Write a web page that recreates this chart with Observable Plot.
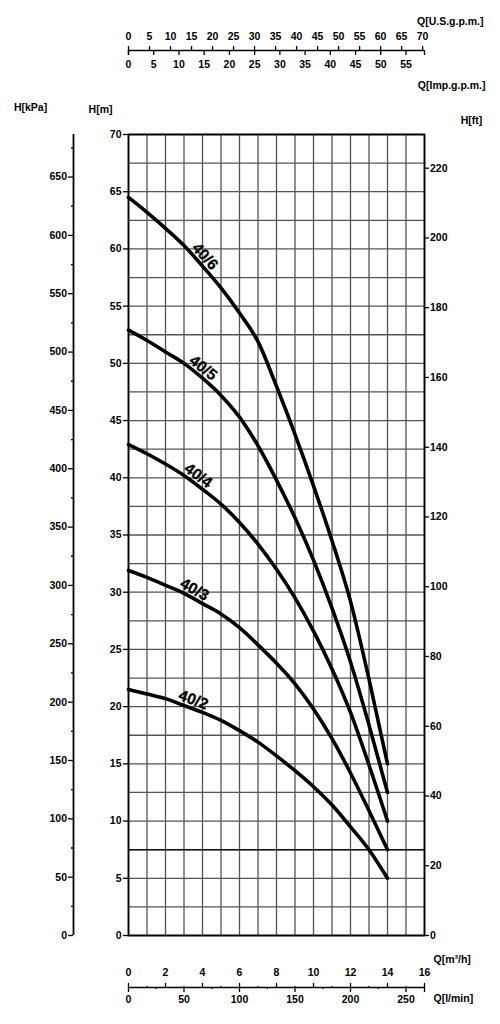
<!DOCTYPE html>
<html>
<head>
<meta charset="utf-8">
<script src="https://cdn.jsdelivr.net/npm/d3@7"></script>
<script src="https://cdn.jsdelivr.net/npm/@observablehq/plot@0.6"></script>
<style>
  html, body { margin: 0; padding: 0; background: #fff; }
  #chart svg { display: block; }
</style>
</head>
<body>
<div id="chart"></div>
<script>
// ---------- data ----------
const flow = [0, 1, 2, 3, 4, 5, 6, 7, 8, 9, 10, 11, 12, 13, 14]; // Q [m³/h]
const models = ["40/2", "40/3", "40/4", "40/5", "40/6"];
const head_40_2 = [21.5, 21.1, 20.7, 20.1, 19.5, 18.8, 17.9, 16.9, 15.7, 14.4, 13.0, 11.4, 9.5, 7.5, 5.0];
const head_40_3 = [31.9, 31.3, 30.6, 29.9, 29.0, 28.1, 26.9, 25.4, 23.8, 22.0, 19.8, 17.2, 14.2, 10.9, 7.5];
const head_40_4 = [42.9, 42.1, 41.2, 40.2, 39.0, 37.7, 36.1, 34.2, 32.0, 29.5, 26.6, 23.3, 19.5, 14.9, 10.0];
const head_40_5 = [52.9, 52.0, 51.0, 50.0, 48.7, 47.2, 45.3, 42.8, 39.8, 36.5, 32.8, 28.6, 23.9, 18.4, 12.5];
const head_40_6 = [64.5, 63.2, 61.8, 60.3, 58.5, 56.6, 54.4, 51.9, 48.0, 43.8, 39.3, 34.5, 29.2, 22.4, 15.0];
const labelFlow = [3.35, 3.35, 3.5, 3.75, 3.8]; // where each curve name sits along its curve

// tick labels
const mTicks = [0, 5, 10, 15, 20, 25, 30, 35, 40, 45, 50, 55, 60, 65, 70];
const kpaTicks = [0, 50, 100, 150, 200, 250, 300, 350, 400, 450, 500, 550, 600, 650];
const kpaMinor = [25, 75, 125, 175, 225, 275, 325, 375, 425, 475, 525, 575, 625, 675];
const ftTicks = [0, 20, 40, 60, 80, 100, 120, 140, 160, 180, 200, 220];
const usGpmTicks = [0, 5, 10, 15, 20, 25, 30, 35, 40, 45, 50, 55, 60, 65, 70];
const impGpmTicks = [0, 5, 10, 15, 20, 25, 30, 35, 40, 45, 50, 55];
const m3hTicks = [0, 2, 4, 6, 8, 10, 12, 14, 16];
const m3hMinor = [1, 3, 5, 7, 9, 11, 13, 15];
const lminTicks = [0, 50, 100, 150, 200, 250];
const lminMinor = [25, 75, 125, 175, 225];

// unit conversions
const KPA_PER_M = 9.80665;
const M_PER_FT = 0.3048;
const M3H_PER_USGPM = 0.2271247;
const M3H_PER_IMPGPM = 0.2727654;
const M3H_PER_LMIN = 0.06;

// ---------- layout ----------
const W = 500, H = 1024;
const ML = 128, MR = 76, MT = 134, MB = 89;
const QMAX = 16, HMAX = 70;
const pxPerQ = (W - ML - MR) / QMAX;
const pxPerH = (H - MT - MB) / HMAX;

const series = {"40/2": head_40_2, "40/3": head_40_3, "40/4": head_40_4, "40/5": head_40_5, "40/6": head_40_6};
const rows = models.flatMap(m => flow.map((q, i) => ({model: m, q, h: series[m][i]})));

// curve name labels, rotated along the curve
const labelMarks = models.map((m, k) => {
  const q = labelFlow[k];
  const hs = series[m];
  const j = Math.min(Math.floor(q), flow.length - 2);
  const t = (q - flow[j]) / (flow[j + 1] - flow[j]);
  const h = hs[j] + t * (hs[j + 1] - hs[j]);
  const theta = Math.atan((hs[j] - hs[j + 1]) * pxPerH / ((flow[j + 1] - flow[j]) * pxPerQ));
  const d = 8.5;
  return Plot.text([{q, h, m}], {
    x: "q", y: "h", text: "m",
    rotate: theta * 180 / Math.PI,
    dx: d * Math.sin(theta), dy: -d * Math.cos(theta),
    fontSize: 15.5, fontWeight: "bold", fill: "#000", stroke: "#000", strokeWidth: 0.3
  });
});

const font = {fontSize: 10.5, fontWeight: "bold"};
const topLineDy = -84;   // auxiliary top flow scale, relative to frame top
const botLineDy = 52;    // auxiliary bottom flow scale, relative to frame bottom
const kpaDx = -55;       // kPa axis, relative to frame left

const chart = Plot.plot({
  width: W, height: H,
  marginLeft: ML, marginRight: MR, marginTop: MT, marginBottom: MB,
  style: {fontFamily: "'Liberation Sans', Arial, Helvetica, sans-serif", fontWeight: "bold", fontSize: "10.5px", color: "#000", background: "#fff"},
  x: {domain: [0, QMAX], label: null},
  y: {domain: [0, HMAX], label: null},
  marks: [
    // grid
    Plot.ruleX(d3.range(0, QMAX + 1, 1), {stroke: "#555", strokeWidth: 1.3}),
    Plot.ruleY(d3.range(0, HMAX + 0.1, 2.5), {stroke: "#555", strokeWidth: 1.3}),
    Plot.ruleY([7.5], {stroke: "#111", strokeWidth: 1.6}),
    Plot.frame({stroke: "#000", strokeWidth: 1.8}),

    // pump curves
    Plot.line(rows, {x: "q", y: "h", z: "model", stroke: "#000", strokeWidth: 3.6, curve: "monotone-x"}),
    ...labelMarks,

    // H [m] axis (left of frame)
    Plot.axisY(mTicks, {anchor: "left", tickSize: 5, tickPadding: 2, label: null, strokeWidth: 1.3, ...font}),
    // H [kPa] axis
    Plot.ruleX([0], {y1: 0, y2: HMAX, dx: kpaDx, stroke: "#000", strokeWidth: 1.8}),
    Plot.axisY(kpaTicks.map(v => v / KPA_PER_M), {anchor: "left", dx: kpaDx, tickSize: 5, tickPadding: 1.5, label: null, strokeWidth: 1.3, tickFormat: d => Math.round(d * KPA_PER_M), ...font}),
    Plot.axisY(kpaMinor.map(v => v / KPA_PER_M), {anchor: "left", dx: kpaDx, tickSize: 2, label: null, strokeWidth: 1.3, tickFormat: () => ""}),
    // H [ft] axis (right of frame)
    Plot.axisY(ftTicks.map(v => v * M_PER_FT), {anchor: "right", tickSize: 4, tickPadding: 1.5, label: null, strokeWidth: 1.3, tickFormat: d => Math.round(d / M_PER_FT), ...font}),

    // top: US gpm above line, Imp gpm below
    Plot.ruleY([HMAX], {x1: 0, x2: QMAX, dy: topLineDy, stroke: "#000", strokeWidth: 1.5}),
    Plot.axisX(usGpmTicks.map(v => v * M3H_PER_USGPM), {anchor: "top", dy: topLineDy, tickSize: 5, tickPadding: 6, label: null, strokeWidth: 1.3, tickFormat: d => Math.round(d / M3H_PER_USGPM), ...font}),
    Plot.axisX(impGpmTicks.map(v => v * M3H_PER_IMPGPM), {anchor: "bottom", dy: topLineDy - (H - MT - MB), tickSize: 5, tickPadding: 5, label: null, strokeWidth: 1.3, tickFormat: d => Math.round(d / M3H_PER_IMPGPM), ...font}),
    Plot.axisX([0, QMAX], {anchor: "bottom", dy: topLineDy - (H - MT - MB), tickSize: 5, label: null, strokeWidth: 1.3, tickFormat: () => ""}),

    // bottom: m³/h above line, l/min below
    Plot.ruleY([0], {x1: 0, x2: QMAX, dy: botLineDy, stroke: "#000", strokeWidth: 1.5}),
    Plot.axisX(m3hTicks, {anchor: "top", dy: botLineDy + (H - MT - MB), tickSize: 5, tickPadding: 7, label: null, strokeWidth: 1.3, tickFormat: d => d, ...font}),
    Plot.axisX(m3hMinor, {anchor: "top", dy: botLineDy + (H - MT - MB), tickSize: 2, label: null, strokeWidth: 1.3, tickFormat: () => ""}),
    Plot.axisX(lminTicks.map(v => v * M3H_PER_LMIN), {anchor: "bottom", dy: botLineDy, tickSize: 5, tickPadding: 3, label: null, strokeWidth: 1.3, tickFormat: d => Math.round(d / M3H_PER_LMIN), ...font}),
    Plot.axisX(lminMinor.map(v => v * M3H_PER_LMIN), {anchor: "bottom", dy: botLineDy, tickSize: 2, label: null, strokeWidth: 1.3, tickFormat: () => ""}),
    Plot.axisX([QMAX], {anchor: "bottom", dy: botLineDy, tickSize: 5, label: null, strokeWidth: 1.3, tickFormat: () => ""}),

    // unit titles
    Plot.text(["H[kPa]"], {frameAnchor: "top-left", dx: -98, dy: -31, textAnchor: "middle", ...font}),
    Plot.text(["H[m]"], {frameAnchor: "top-left", dx: -28, dy: -29, textAnchor: "middle", ...font}),
    Plot.text(["H[ft]"], {frameAnchor: "top-right", dx: 47, dy: -18, textAnchor: "middle", ...font}),
    Plot.text(["Q[U.S.g.p.m.]"], {frameAnchor: "top-right", dx: 59, dy: -116.5, textAnchor: "end", ...font}),
    Plot.text(["Q[Imp.g.p.m.]"], {frameAnchor: "top-right", dx: 61, dy: -53, textAnchor: "end", ...font}),
    Plot.text(["Q[m³/h]"], {frameAnchor: "bottom-right", dx: 9, dy: 27, textAnchor: "start", ...font}),
    Plot.text(["Q[l/min]"], {frameAnchor: "bottom-right", dx: 9, dy: 66, textAnchor: "start", ...font})
  ]
});

document.getElementById("chart").appendChild(chart);
</script>
</body>
</html>
